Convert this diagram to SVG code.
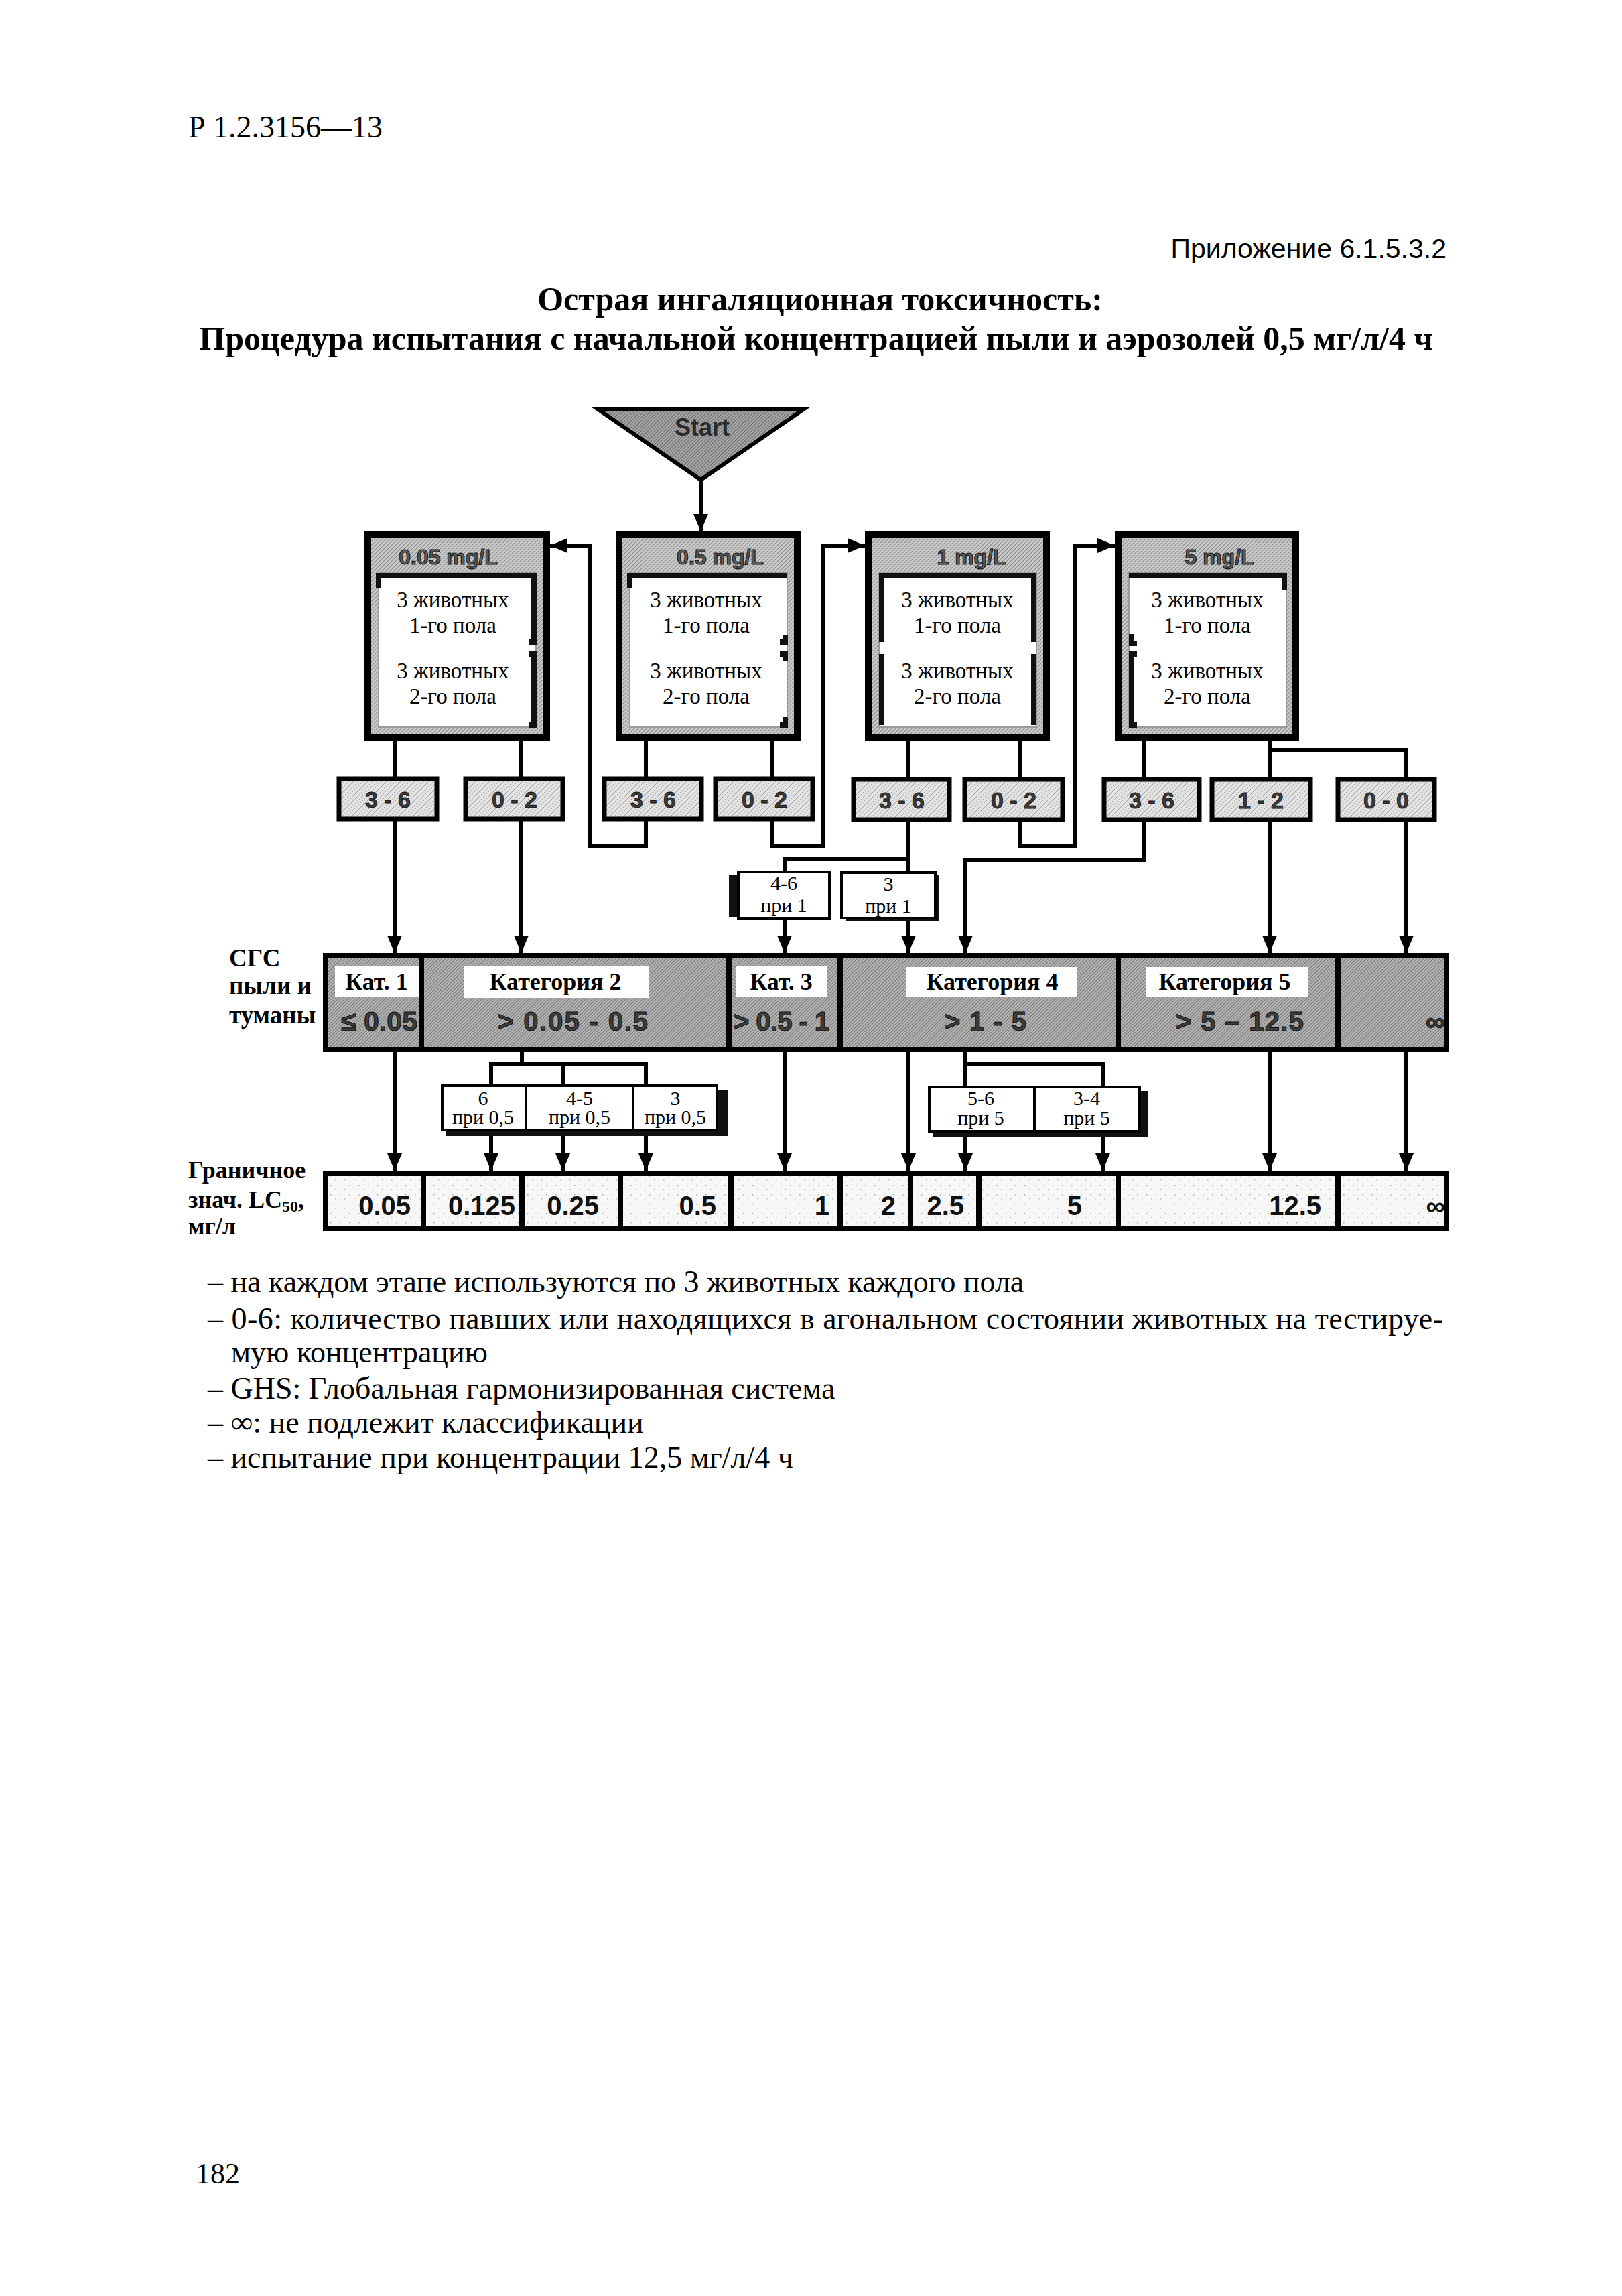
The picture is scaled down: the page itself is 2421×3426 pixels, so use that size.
<svg xmlns="http://www.w3.org/2000/svg" width="2421" height="3426" viewBox="0 0 2421 3426">
<style>
.serif{font-family:"Liberation Serif","Times New Roman",serif;fill:#000}
.b{font-weight:bold}
.sans{font-family:"Liberation Sans",Arial,sans-serif;font-weight:bold}
.hdr{font-size:32px;fill:#5a5a5a;stroke:#1a1a1a;stroke-width:1.2;text-anchor:middle}
.cnt{font-size:34px;fill:#3a3a3a;stroke:#111;stroke-width:0.8;text-anchor:middle}
.val{font-size:40px;fill:#3c3c3c;stroke:#111;stroke-width:1}
.lc{font-size:40px;fill:#111;text-anchor:end}
.box{fill:url(#pBox);stroke:#000;stroke-width:10}
.inner{fill:#fff;stroke:#9a9a9a;stroke-width:2}
.brk{fill:none;stroke:#111;stroke-width:8}
.cbox{fill:url(#pCnt);stroke:#000;stroke-width:7}
.rbox{fill:#fff;stroke:#000;stroke-width:4}
.shadow{fill:#111}
.animal{font-size:33px;text-anchor:middle}
.res{font-size:30px;text-anchor:middle}
.catlbl{font-size:36px;text-anchor:middle}
.wlbl{fill:#fff}
.conn{fill:none;stroke:#000;stroke-width:6}
.arr{marker-end:url(#ah)}
.div{stroke:#000;stroke-width:8}
.body{font-size:46px}
</style>
<defs>
<pattern id="pBox" width="6" height="6" patternUnits="userSpaceOnUse"><rect width="6" height="6" fill="#c8c8c8"/><path d="M0,6 L6,0" stroke="#8e8e8e" stroke-width="1.2"/></pattern>
<pattern id="pCat" width="5" height="5" patternUnits="userSpaceOnUse"><rect width="5" height="5" fill="#b2b2b2"/><path d="M0,5 L5,0" stroke="#7a7a7a" stroke-width="1.2"/></pattern>
<pattern id="pCnt" width="7" height="7" patternUnits="userSpaceOnUse"><rect width="7" height="7" fill="#e2e2e2"/><path d="M0,7 L7,0" stroke="#a8a8a8" stroke-width="1"/></pattern>
<pattern id="pLc" width="14" height="14" patternUnits="userSpaceOnUse"><rect width="14" height="14" fill="#f7f7f7"/><rect x="3" y="4" width="1.5" height="1.5" fill="#b0b0b0"/><rect x="10" y="10" width="1.5" height="1.5" fill="#c0c0c0"/></pattern>
<pattern id="pStart" width="5" height="5" patternUnits="userSpaceOnUse"><rect width="5" height="5" fill="#a4a4a4"/><path d="M0,5 L5,0" stroke="#6e6e6e" stroke-width="1.2"/></pattern>
<marker id="ah" viewBox="0 0 26 22" refX="26" refY="11" markerWidth="26" markerHeight="22" orient="auto" markerUnits="userSpaceOnUse"><path d="M0,0 L26,11 L0,22 z" fill="#000"/></marker>
</defs>

<rect width="2421" height="3426" fill="#fff"/>

<g id="page-text">
<text class="serif" x="281" y="205" font-size="46">Р 1.2.3156—13</text>
<text x="2159" y="385" font-size="41" text-anchor="end" style="font-family:'Liberation Sans',Arial,sans-serif;fill:#000">Приложение 6.1.5.3.2</text>
<text class="serif b" x="1224" y="463" font-size="50" text-anchor="middle">Острая ингаляционная токсичность:</text>
<text class="serif b" x="1218" y="522" font-size="50" text-anchor="middle">Процедура испытания с начальной концентрацией пыли и аэрозолей 0,5 мг/л/4 ч</text>
</g>

<g id="connectors">
<line class="conn arr" x1="1046" y1="716" x2="1046" y2="793"/>
<path class="conn" d="M589,1105 V1159 M778,1105 V1159 M964,1105 V1159 M1152,1105 V1159 M1356,1105 V1160 M1522,1105 V1160 M1708,1105 V1160 M1895,1105 V1160 M1895,1119 H2099 V1160"/>
<line class="conn arr" x1="589" y1="1225" x2="589" y2="1422"/>
<line class="conn arr" x1="778" y1="1225" x2="778" y2="1422"/>
<path class="conn arr" d="M964,1225 V1263 H881 V814 H821"/>
<path class="conn arr" d="M1152,1225 V1263 H1229 V814 H1291"/>
<path class="conn arr" d="M1522,1226 V1263 H1605 V814 H1664"/>
<path class="conn" d="M1356,1226 V1302 M1356,1282 H1171 V1300"/>
<line class="conn arr" x1="1171" y1="1372" x2="1171" y2="1422"/>
<line class="conn arr" x1="1356" y1="1372" x2="1356" y2="1422"/>
<path class="conn arr" d="M1708,1226 V1283 H1441 V1422"/>
<line class="conn arr" x1="1895" y1="1226" x2="1895" y2="1422"/>
<line class="conn arr" x1="2099" y1="1226" x2="2099" y2="1422"/>
<line class="conn arr" x1="589" y1="1570" x2="589" y2="1747"/>
<path class="conn" d="M779,1570 V1587 M733,1618 V1587 H964 V1618 M840,1587 V1618"/>
<line class="conn arr" x1="733" y1="1688" x2="733" y2="1747"/>
<line class="conn arr" x1="840" y1="1688" x2="840" y2="1747"/>
<line class="conn arr" x1="964" y1="1688" x2="964" y2="1747"/>
<line class="conn arr" x1="1171" y1="1570" x2="1171" y2="1747"/>
<line class="conn arr" x1="1356" y1="1570" x2="1356" y2="1747"/>
<path class="conn" d="M1441,1570 V1620 M1441,1587 H1646 V1620"/>
<line class="conn arr" x1="1441" y1="1690" x2="1441" y2="1747"/>
<line class="conn arr" x1="1646" y1="1690" x2="1646" y2="1747"/>
<line class="conn arr" x1="1895" y1="1570" x2="1895" y2="1747"/>
<line class="conn arr" x1="2099" y1="1570" x2="2099" y2="1747"/>
</g>

<g id="start">
<path d="M893,611 L1199,611 L1046,716 Z" fill="url(#pStart)" stroke="#000" stroke-width="6" stroke-linejoin="miter"/>
<text class="sans" x="1048" y="650" font-size="36" text-anchor="middle" fill="#2a2a2a">Start</text>
</g>

<g id="box-005">
<rect class="box" x="549" y="798" width="267" height="302"/>
<rect class="inner" x="565" y="855" width="235" height="230"/>
<path class="brk" d="M565,859 H800 M565,855 V878 M797,855 V958 H789 M789,976 H797 V1082 H789"/>
<text class="sans hdr" x="669" y="842">0.05 mg/L</text>
<text class="serif animal" x="676" y="906">3 животных</text>
<text class="serif animal" x="676" y="944">1-го пола</text>
<text class="serif animal" x="676" y="1012">3 животных</text>
<text class="serif animal" x="676" y="1050">2-го пола</text>
</g>
<g id="box-05">
<rect class="box" x="924" y="798" width="266" height="302"/>
<rect class="inner" x="940" y="855" width="235" height="230"/>
<path class="brk" d="M940,859 H1175 M940,855 V878 M1172,948 V958 H1164 M1164,976 H1172 V986 M1172,1070 V1082 H1164"/>
<text class="sans hdr" x="1075" y="842">0.5 mg/L</text>
<text class="serif animal" x="1054" y="906">3 животных</text>
<text class="serif animal" x="1054" y="944">1-го пола</text>
<text class="serif animal" x="1054" y="1012">3 животных</text>
<text class="serif animal" x="1054" y="1050">2-го пола</text>
</g>
<g id="box-1">
<rect class="box" x="1296" y="798" width="266" height="302"/>
<rect class="inner" x="1312" y="855" width="235" height="230"/>
<path class="brk" d="M1312,859 H1547 M1316,855 V958 M1316,976 V1082 M1543,855 V958 M1543,976 V1082"/>
<text class="sans hdr" x="1450" y="842">1  mg/L</text>
<text class="serif animal" x="1429" y="906">3 животных</text>
<text class="serif animal" x="1429" y="944">1-го пола</text>
<text class="serif animal" x="1429" y="1012">3 животных</text>
<text class="serif animal" x="1429" y="1050">2-го пола</text>
</g>
<g id="box-5">
<rect class="box" x="1669" y="798" width="265" height="302"/>
<rect class="inner" x="1685" y="855" width="235" height="230"/>
<path class="brk" d="M1685,859 H1920 M1917,855 V880 M1689,946 V960 H1697 M1697,976 H1689 V1082 H1697"/>
<text class="sans hdr" x="1820" y="842">5 mg/L</text>
<text class="serif animal" x="1802" y="906">3 животных</text>
<text class="serif animal" x="1802" y="944">1-го пола</text>
<text class="serif animal" x="1802" y="1012">3 животных</text>
<text class="serif animal" x="1802" y="1050">2-го пола</text>
</g>

<g id="count-1"><rect class="cbox" x="506" y="1162" width="146" height="60"/><text class="sans cnt" x="579" y="1205">3 - 6</text></g>
<g id="count-2"><rect class="cbox" x="695" y="1162" width="145" height="60"/><text class="sans cnt" x="768" y="1205">0 - 2</text></g>
<g id="count-3"><rect class="cbox" x="902" y="1162" width="145" height="60"/><text class="sans cnt" x="975" y="1205">3 - 6</text></g>
<g id="count-4"><rect class="cbox" x="1068" y="1162" width="145" height="60"/><text class="sans cnt" x="1141" y="1205">0 - 2</text></g>
<g id="count-5"><rect class="cbox" x="1274" y="1163" width="143" height="60"/><text class="sans cnt" x="1346" y="1206">3 - 6</text></g>
<g id="count-6"><rect class="cbox" x="1440" y="1163" width="146" height="60"/><text class="sans cnt" x="1513" y="1206">0 - 2</text></g>
<g id="count-7"><rect class="cbox" x="1648" y="1163" width="142" height="60"/><text class="sans cnt" x="1719" y="1206">3 - 6</text></g>
<g id="count-8"><rect class="cbox" x="1809" y="1163" width="147" height="60"/><text class="sans cnt" x="1882" y="1206">1 - 2</text></g>
<g id="count-9"><rect class="cbox" x="1997" y="1163" width="144" height="60"/><text class="sans cnt" x="2069" y="1206">0 - 0</text></g>

<g id="res-4-6-at-1">
<rect class="shadow" x="1088" y="1305" width="12" height="64"/>
<rect class="rbox" x="1102" y="1301" width="136" height="70"/>
<text class="serif res" x="1170" y="1328">4-6<tspan x="1170" dy="33">при 1</tspan></text>
</g>
<g id="res-3-at-1">
<rect class="shadow" x="1262" y="1366" width="140" height="8"/>
<rect class="shadow" x="1394" y="1306" width="8" height="66"/>
<rect class="rbox" x="1256" y="1302" width="140" height="68"/>
<text class="serif res" x="1326" y="1329">3<tspan x="1326" dy="33">при 1</tspan></text>
</g>

<g id="category-bar">
<rect x="486" y="1426" width="1673" height="140" fill="url(#pCat)" stroke="#000" stroke-width="8"/>
<line class="div" x1="629" y1="1422" x2="629" y2="1570"/>
<line class="div" x1="1088" y1="1422" x2="1088" y2="1570"/>
<line class="div" x1="1254" y1="1422" x2="1254" y2="1570"/>
<line class="div" x1="1669" y1="1422" x2="1669" y2="1570"/>
<line class="div" x1="1997" y1="1422" x2="1997" y2="1570"/>
<rect class="wlbl" x="500" y="1442" width="125" height="46"/>
<rect class="wlbl" x="693" y="1442" width="275" height="47"/>
<rect class="wlbl" x="1098" y="1442" width="137" height="46"/>
<rect class="wlbl" x="1353" y="1443" width="255" height="45"/>
<rect class="wlbl" x="1710" y="1443" width="243" height="45"/>
<text class="serif b catlbl" x="562" y="1477">Кат. 1</text>
<text class="serif b catlbl" x="829" y="1477">Категория 2</text>
<text class="serif b catlbl" x="1166" y="1477">Кат. 3</text>
<text class="serif b catlbl" x="1481" y="1477">Категория 4</text>
<text class="serif b catlbl" x="1828" y="1477">Категория 5</text>
<text class="sans val" x="509" y="1538" textLength="114" lengthAdjust="spacingAndGlyphs">≤ 0.05</text>
<text class="sans val" x="743" y="1538" textLength="224" lengthAdjust="spacing">&gt; 0.05 - 0.5</text>
<text class="sans val" x="1095" y="1538" textLength="143" lengthAdjust="spacing">&gt; 0.5 - 1</text>
<text class="sans val" x="1410" y="1538" textLength="122" lengthAdjust="spacing">&gt; 1 - 5</text>
<text class="sans val" x="1755" y="1538" textLength="191" lengthAdjust="spacing">&gt; 5 – 12.5</text>
<text class="sans val" x="2128" y="1538">∞</text>
</g>

<g id="result-05">
<rect class="shadow" x="1072" y="1627" width="14" height="68"/>
<rect class="shadow" x="665" y="1686" width="421" height="9"/>
<rect class="rbox" x="660" y="1620" width="410" height="66"/>
<line x1="785" y1="1620" x2="785" y2="1686" stroke="#000" stroke-width="4"/>
<line x1="945" y1="1620" x2="945" y2="1686" stroke="#000" stroke-width="4"/>
<text class="serif res" x="721" y="1649">6<tspan x="721" dy="28">при 0,5</tspan></text>
<text class="serif res" x="865" y="1649">4-5<tspan x="865" dy="28">при 0,5</tspan></text>
<text class="serif res" x="1008" y="1649">3<tspan x="1008" dy="28">при 0,5</tspan></text>
</g>
<g id="result-5">
<rect class="shadow" x="1700" y="1628" width="13" height="68"/>
<rect class="shadow" x="1392" y="1688" width="321" height="8"/>
<rect class="rbox" x="1387" y="1622" width="314" height="66"/>
<line x1="1544" y1="1622" x2="1544" y2="1688" stroke="#000" stroke-width="4"/>
<text class="serif res" x="1464" y="1649">5-6<tspan x="1464" dy="29">при 5</tspan></text>
<text class="serif res" x="1622" y="1649">3-4<tspan x="1622" dy="29">при 5</tspan></text>
</g>

<g id="lc50-bar">
<rect x="486" y="1751" width="1673" height="82" fill="url(#pLc)" stroke="#000" stroke-width="8"/>
<line class="div" x1="632" y1="1747" x2="632" y2="1837"/>
<line class="div" x1="779" y1="1747" x2="779" y2="1837"/>
<line class="div" x1="926" y1="1747" x2="926" y2="1837"/>
<line class="div" x1="1091" y1="1747" x2="1091" y2="1837"/>
<line class="div" x1="1254" y1="1747" x2="1254" y2="1837"/>
<line class="div" x1="1359" y1="1747" x2="1359" y2="1837"/>
<line class="div" x1="1461" y1="1747" x2="1461" y2="1837"/>
<line class="div" x1="1669" y1="1747" x2="1669" y2="1837"/>
<line class="div" x1="1997" y1="1747" x2="1997" y2="1837"/>
<text class="sans lc" x="613" y="1813">0.05</text>
<text class="sans lc" x="769" y="1813">0.125</text>
<text class="sans lc" x="894" y="1813">0.25</text>
<text class="sans lc" x="1069" y="1813">0.5</text>
<text class="sans lc" x="1238" y="1813">1</text>
<text class="sans lc" x="1337" y="1813">2</text>
<text class="sans lc" x="1439" y="1813">2.5</text>
<text class="sans lc" x="1615" y="1813">5</text>
<text class="sans lc" x="1972" y="1813">12.5</text>
<text class="sans lc" x="2157" y="1813">∞</text>
</g>

<g id="row-labels">
<text class="serif b" x="342" y="1442" font-size="37">СГС</text>
<text class="serif b" x="342" y="1483" font-size="37">пыли и</text>
<text class="serif b" x="342" y="1527" font-size="37">туманы</text>
<text class="serif b" x="281" y="1758" font-size="36">Граничное</text>
<text class="serif b" x="281" y="1802" font-size="36">знач. LC<tspan font-size="24" dy="6">50</tspan><tspan dy="-6">,</tspan></text>
<text class="serif b" x="281" y="1842" font-size="36">мг/л</text>
</g>

<g id="notes">
<text class="serif body" x="310" y="1928">– на каждом этапе используются по 3 животных каждого пола</text>
<text class="serif body" x="310" y="1983" textLength="1844" lengthAdjust="spacing">– 0-6: количество павших или находящихся в агональном состоянии животных на тестируе-</text>
<text class="serif body" x="345" y="2033">мую концентрацию</text>
<text class="serif body" x="310" y="2087">– GHS: Глобальная гармонизированная система</text>
<text class="serif body" x="310" y="2138">– ∞: не подлежит классификации</text>
<text class="serif body" x="310" y="2190">– испытание при концентрации 12,5 мг/л/4 ч</text>
<text class="serif" x="292" y="3258" font-size="44">182</text>
</g>
</svg>
